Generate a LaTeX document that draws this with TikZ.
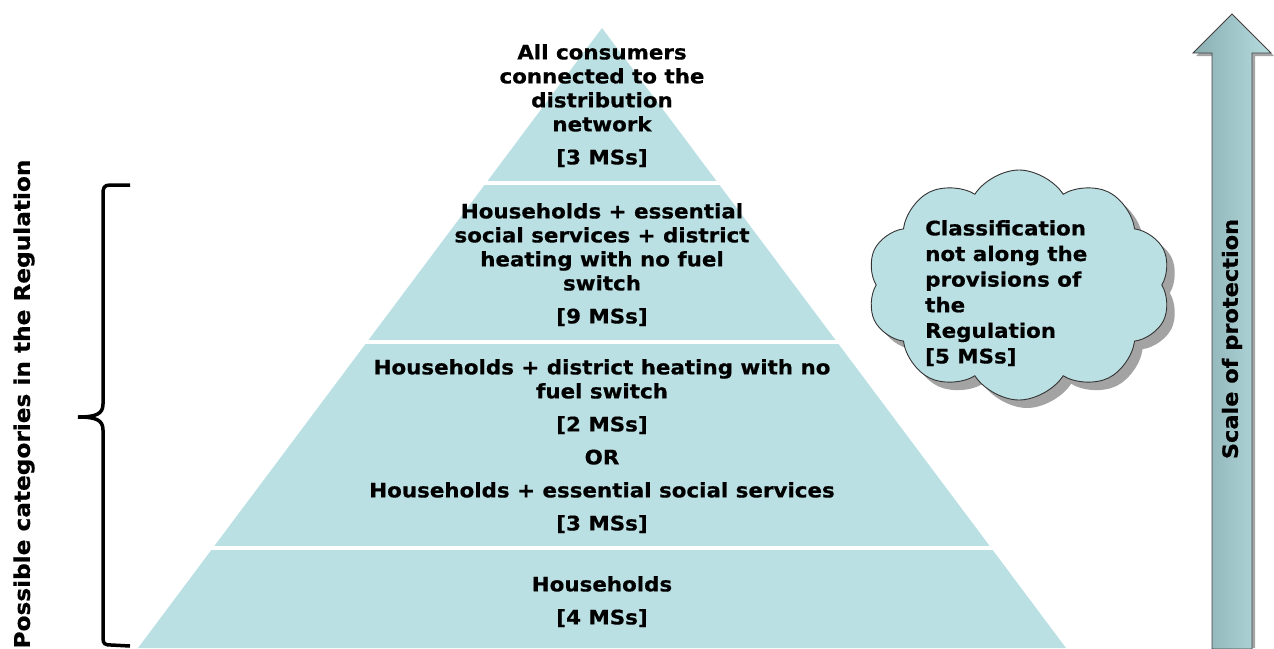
\documentclass[tikz,border=0pt]{standalone}
\usepackage{fontspec}
\setmainfont{DejaVu Sans}[BoldFont=DejaVu Sans Bold, BoldFeatures={FakeStretch=1.07, FakeBold=0.6}]
\usetikzlibrary{shapes.symbols,shadows}
\definecolor{pyr}{HTML}{BBE0E3}
\definecolor{arrL}{HTML}{8AAEB1}
\definecolor{arrR}{HTML}{B6DCE0}
\tikzset{
  lbl/.style={inner sep=0pt, align=center, font=\fontsize{20}{24}\selectfont\bfseries},
  sep/.style={draw=white, line width=4pt},
}
\begin{document}
\begin{tikzpicture}[x=1pt,y=-1pt]
\useasboundingbox (0,0) rectangle (1274,648);
% pyramid
\fill[pyr] (602,28) -- (138,648) -- (1066,648) -- cycle;
\draw[sep] (100,183) -- (1100,183);
\draw[sep] (100,342) -- (1100,342);
\draw[sep] (100,548) -- (1100,548);
% band texts
\node[lbl, anchor=north] (b1) at (602,44) {All consumers\\connected to the\\distribution\\network\\[9pt][3 MSs]};
\node[lbl, anchor=north] (b2) at (602,203) {Households + essential\\social services + district\\heating with no fuel\\switch\\[9pt][9 MSs]};
\node[lbl, anchor=north] (b3) at (602,359) {Households + district heating with no\\fuel switch\\[9pt][2 MSs]\\[9pt]OR\\[9pt]Households + essential social services\\[9pt][3 MSs]};
\node[lbl, anchor=north] (b4) at (602,576) {Households\\[9pt][4 MSs]};
% brace
\draw[line width=3.5pt] (130,185) -- (110,185) .. controls (104,185) and (103,188) .. (103,194)
  -- (103,404) .. controls (103,414) and (96,417) .. (78,417)
  .. controls (96,417) and (103,420) .. (103,430)
  -- (103,638) .. controls (103,644) and (105,645) .. (111,645) -- (130,646);
\node[lbl, rotate=90, font=\fontsize{21.7}{26}\selectfont\bfseries] (lefttxt) at (24,404) {Possible categories in the Regulation};
% cloud
\node[cloud, cloud puffs=10, cloud puff arc=115, aspect=1.35, draw=black!80, line width=0.9pt,
      fill=pyr, minimum width=304pt, minimum height=230pt,
      drop shadow={shadow xshift=8pt, shadow yshift=-8pt, fill=black!45, opacity=0.8}] (cloud) at (1019,285) {};
\node[lbl, align=left, anchor=north west, font=\fontsize{20}{25.6}\selectfont\bfseries] (cloudtxt) at (925,220)
  {Classification\\not along the\\provisions of\\the\\Regulation\\{[5 MSs]}};
% arrow
\fill[black!35] (1215,648) -- (1215,56) -- (1196,56) -- (1235,17) -- (1274,56) -- (1255,56) -- (1255,648) -- cycle;
\shade[left color=arrL, right color=arrR, draw=black!75, line width=0.8pt]
  (1212,649) -- (1212,53) -- (1193,53) -- (1232,14) -- (1271,53) -- (1252,53) -- (1252,649) -- cycle;
\node[lbl, rotate=90, font=\fontsize{21}{25}\selectfont\bfseries] (scale) at (1232,339) {Scale of protection};
\end{tikzpicture}
\end{document}
